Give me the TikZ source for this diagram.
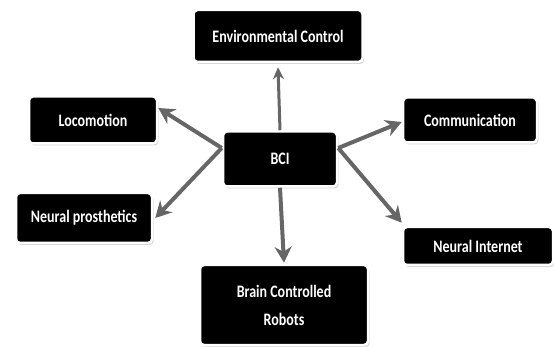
\documentclass[tikz,border=0pt]{standalone}
\usepackage{fontspec}
\setmainfont{Carlito}[FakeStretch=0.8]
\usetikzlibrary{arrows.meta,shadows}

\tikzset{
  box/.style={rectangle, rounded corners=4pt, fill=black, draw=white,
    line width=2.5pt, text=white, font=\bfseries\fontsize{17.5}{20}\selectfont,
    align=center, inner sep=0pt,
    drop shadow={shadow xshift=1.5pt, shadow yshift=-2pt, opacity=0.35, fill=gray}},
  link/.style={color=gray!80!black, line width=4pt,
    -{Stealth[length=16pt,width=17pt]}},
  thinlink/.style={line width=3pt, -{Stealth[length=12pt,width=11pt]}}
}

\begin{document}
\begin{tikzpicture}[x=1pt,y=-1pt]
        \useasboundingbox (0,0) rectangle (554,347);

        \node[box, minimum width=114pt, minimum height=55pt] (bci) at (280,159) {BCI};
        \node[box, minimum width=169pt, minimum height=52pt] (env) at (278,36) {Environmental Control};
        \node[box, minimum width=128pt, minimum height=47pt] (loco) at (93,120) {Locomotion};
        \node[box, minimum width=136pt, minimum height=50pt] (pros) at (84,218) {Neural prosthetics};
        \node[box, minimum width=134pt, minimum height=45pt] (comm) at (470,120) {Communication};
        \node[box, minimum width=150pt, minimum height=38pt] (inet) at (478,246) {Neural Internet};
        \node[box, minimum width=168pt, minimum height=80pt] (robo) at (284,305) {Brain Controlled\\[8pt]Robots};

        % both side arrows leave from the same point
        \coordinate (bl) at ([yshift=11pt]bci.west);
        \coordinate (br) at ([yshift=11pt]bci.east);

        \path[link]

        (bl) edge ([yshift=12pt]loco.east)

        (bl) edge ([xshift=2pt]pros.east)

        (br) edge ([yshift=-2pt]comm.west)

        (br) edge ([yshift=3pt]inet.north west)

        (bci.north) edge[thinlink] ([yshift=-4pt]env.south)

        (bci.south) edge ([yshift=1pt]robo.north)

        ;
\end{tikzpicture}
\end{document}
